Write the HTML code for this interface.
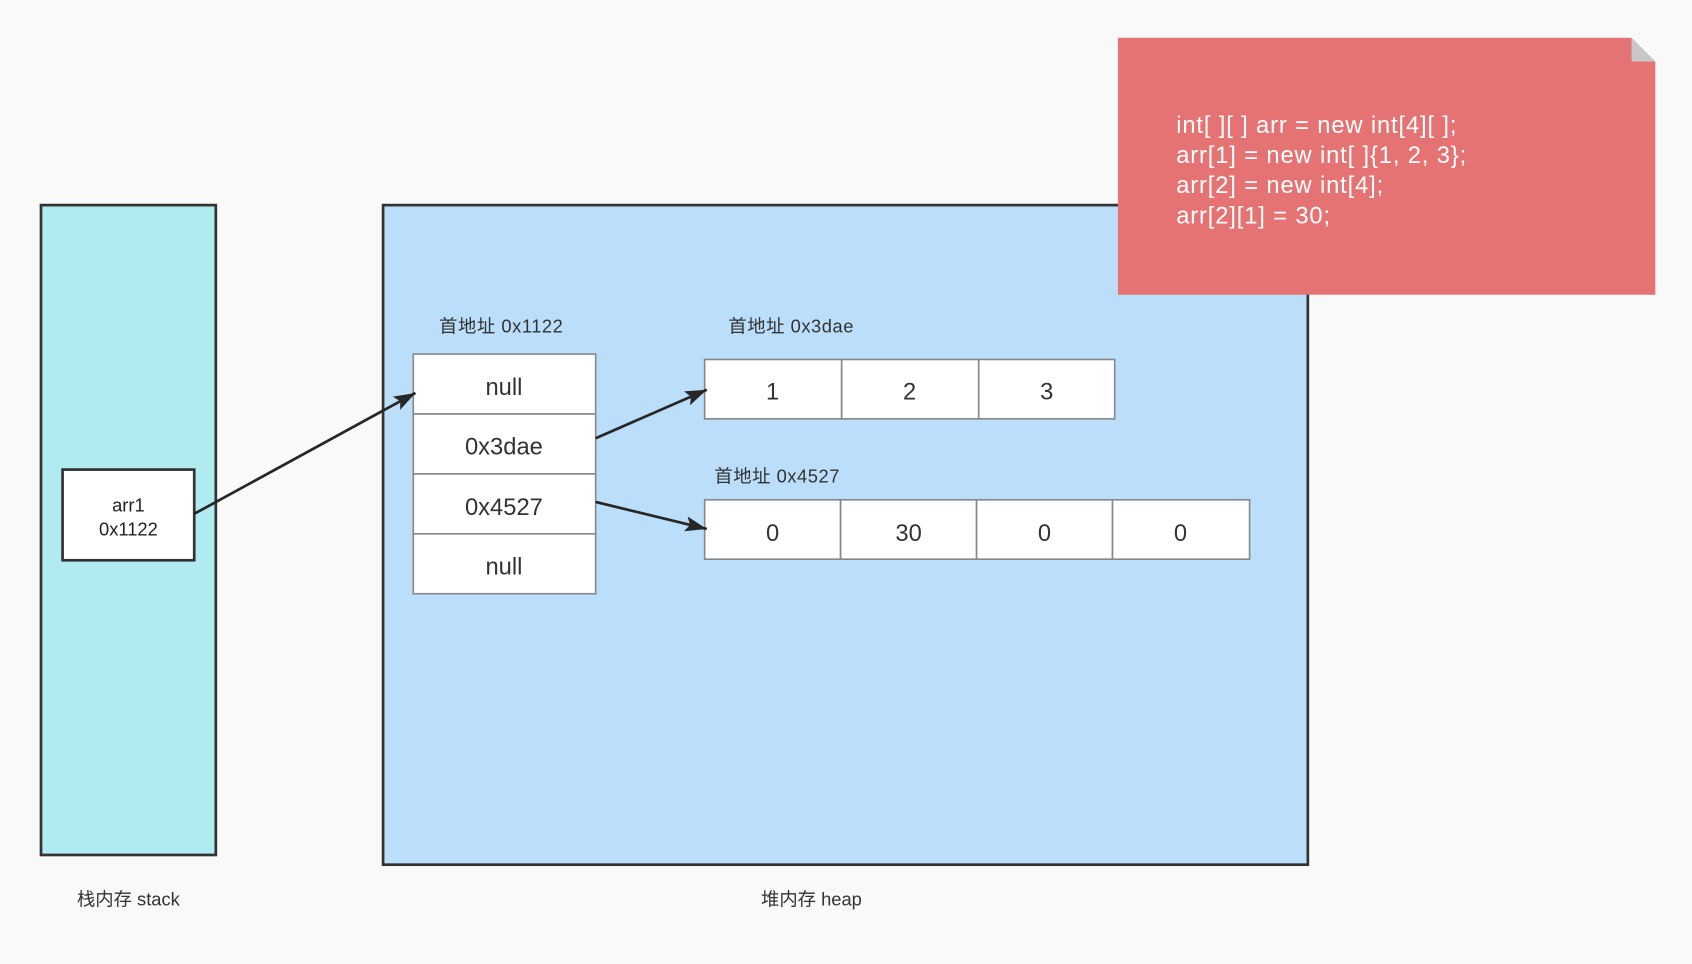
<!DOCTYPE html>
<html><head><meta charset="utf-8"><style>
html,body{margin:0;padding:0;background:#f9f9f9;}
svg{display:block;font-family:"Liberation Sans","Noto Sans CJK SC",sans-serif;}
</style></head><body>
<svg width="1692" height="964" viewBox="0 0 1568 893" preserveAspectRatio="none">
<defs>
<marker id="ah2" markerWidth="22" markerHeight="14" refX="20" refY="7" orient="auto" markerUnits="userSpaceOnUse"><path d="M0,0 L20,7 L0,14 L4,7 Z" fill="#262626"/></marker></defs>
<rect width="1568" height="893" fill="#f9f9f9"/>
<rect x="38" y="190" width="162" height="602" fill="#b1ebf2" stroke="#333" stroke-width="2.5"/>
<rect x="355" y="190" width="857" height="611" fill="#bbdefa" stroke="#333" stroke-width="2.5"/>
<g>
<rect x="58" y="435" width="122" height="84" fill="#fff" stroke="#333" stroke-width="2.5"/>
<text x="119" y="474" font-size="17" text-anchor="middle" fill="#222">arr1</text>
<text x="119" y="496" font-size="17" text-anchor="middle" fill="#222">0x1122</text>
</g>
<g>
<path d="M1036,35 L1512,35 L1534,57 L1534,273 L1036,273 Z" fill="#e57373"/>
<path d="M1512,35 L1512,57 L1534,57 Z" fill="#c8c8c8"/>
<g font-size="22" fill="#fff" letter-spacing="0.8">
<text x="1090" y="123">int[ ][ ] arr = new int[4][ ];</text>
<text x="1090" y="151">arr[1] = new int[ ]{1, 2, 3};</text>
<text x="1090" y="179">arr[2] = new int[4];</text>
<text x="1090" y="207">arr[2][1] = 30;</text>
</g></g>
<g font-size="17" fill="#333">
<text x="407" y="308" letter-spacing="0.5">首地址 0x1122</text>
<text x="675" y="308" letter-spacing="0.5">首地址 0x3dae</text>
<text x="662" y="447" letter-spacing="0.5">首地址 0x4527</text>
<text x="119" y="839" text-anchor="middle">栈内存 stack</text>
<text x="752" y="839" text-anchor="middle">堆内存 heap</text>
</g>
<g font-size="22" fill="#333" text-anchor="middle">
<rect x="383" y="328" width="169" height="55.5" fill="#fff" stroke="#888" stroke-width="1.5"/>
<rect x="383" y="383.5" width="169" height="55.5" fill="#fff" stroke="#888" stroke-width="1.5"/>
<rect x="383" y="439" width="169" height="55.5" fill="#fff" stroke="#888" stroke-width="1.5"/>
<rect x="383" y="494.5" width="169" height="55.5" fill="#fff" stroke="#888" stroke-width="1.5"/>
<text x="467" y="366">null</text><text x="467" y="421">0x3dae</text><text x="467" y="477">0x4527</text><text x="467" y="532">null</text>
</g>
<g font-size="22" fill="#333" text-anchor="middle">
<rect x="653" y="333" width="127" height="55" fill="#fff" stroke="#888" stroke-width="1.5"/>
<rect x="780" y="333" width="127" height="55" fill="#fff" stroke="#888" stroke-width="1.5"/>
<rect x="907" y="333" width="126" height="55" fill="#fff" stroke="#888" stroke-width="1.5"/>
<text x="716" y="370">1</text><text x="843" y="370">2</text><text x="970" y="370">3</text>
</g>
<g font-size="22" fill="#333" text-anchor="middle">
<rect x="653" y="463" width="126" height="55" fill="#fff" stroke="#888" stroke-width="1.5"/>
<rect x="779" y="463" width="126" height="55" fill="#fff" stroke="#888" stroke-width="1.5"/>
<rect x="905" y="463" width="126" height="55" fill="#fff" stroke="#888" stroke-width="1.5"/>
<rect x="1031" y="463" width="127" height="55" fill="#fff" stroke="#888" stroke-width="1.5"/>
<text x="716" y="501">0</text><text x="842" y="501">30</text><text x="968" y="501">0</text><text x="1094" y="501">0</text>
</g>
<g stroke="#262626" stroke-width="2.5" fill="none">
<line x1="180" y1="476" x2="385" y2="364" marker-end="url(#ah2)"/>
<line x1="552" y1="406" x2="655" y2="361" marker-end="url(#ah2)"/>
<line x1="552" y1="465" x2="655" y2="490" marker-end="url(#ah2)"/>
</g>
</svg>
</body></html>
